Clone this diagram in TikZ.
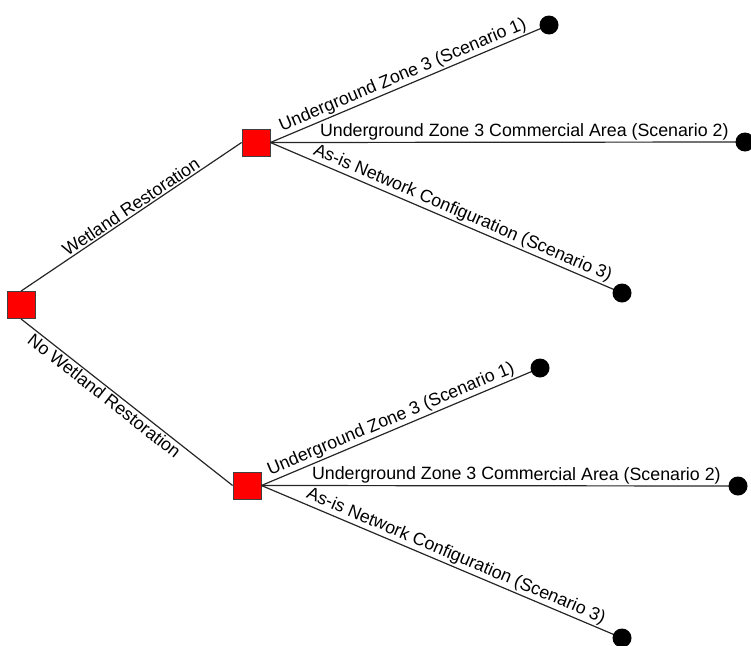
\documentclass[tikz,border=0pt]{standalone}
\usepackage{fontspec}
\setmainfont{Liberation Sans}
\begin{document}
\begin{tikzpicture}[x=1pt,y=-1pt,
  dec/.style={draw=black!75, fill=red, minimum width=28pt, minimum height=27pt, inner sep=0pt, line width=0.8pt},
  term/.style={circle, fill=black, minimum size=19pt, inner sep=0pt},
  edge/.style={draw=black!85, line width=1.2pt},
  lab/.style={font=\fontsize{17.8}{20}\selectfont, sloped, above, inner sep=1.5pt},
  labb/.style={lab, below}]
\useasboundingbox (0,0) rectangle (751,645);
\node[dec] (root) at (21,305) {};
\node[dec] (up) at (256,142.5) {};
\node[dec] (low) at (247,485.5) {};
\coordinate (u1) at (549,25);
\coordinate (u2) at (745,142);
\coordinate (u3) at (622,293);
\coordinate (l1) at (540,368);
\coordinate (l2) at (738,486);
\coordinate (l3) at (622,638);
\draw[edge] (root.north) -- node[lab, pos=0.52] {Wetland Restoration} (up.west);
\draw[edge] (root.south) -- node[labb, pos=0.42] {No Wetland Restoration} (low.west);
\draw[edge] (up.east) -- node[lab, pos=0.49] {Underground Zone 3 (Scenario 1)} (u1);
\draw[edge] (up.east) -- node[lab, pos=0.535] {Underground Zone 3 Commercial Area (Scenario 2)} (u2);
\draw[edge] (up.east) -- node[lab, pos=0.535] {As-is Network Configuration (Scenario 3)} (u3);
\draw[edge] (low.east) -- node[lab, pos=0.48] {Underground Zone 3 (Scenario 1)} (l1);
\draw[edge] (low.east) -- node[lab, pos=0.535] {Underground Zone 3 Commercial Area (Scenario 2)} (l2);
\draw[edge] (low.east) -- node[lab, pos=0.528] {As-is Network Configuration (Scenario 3)} (l3);
\foreach \t in {u1,u2,u3,l1,l2,l3} \node[term] (d\t) at (\t) {};
\end{tikzpicture}
\end{document}
